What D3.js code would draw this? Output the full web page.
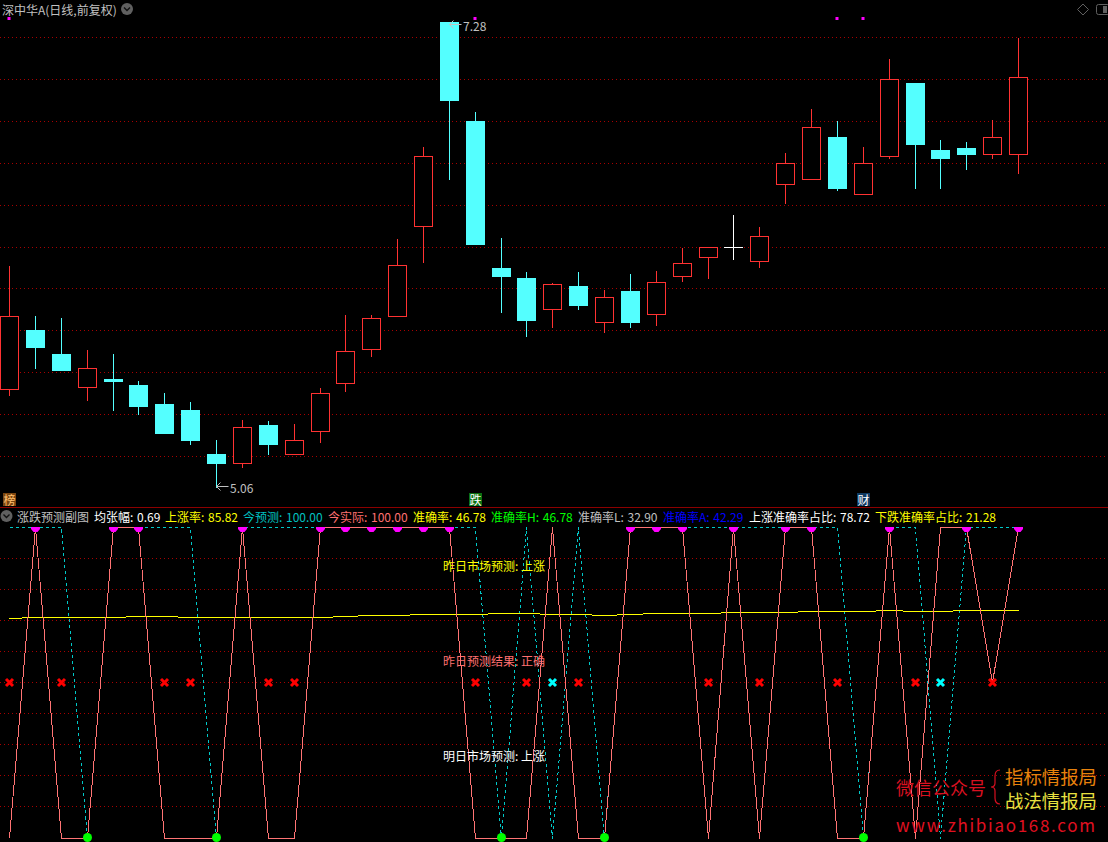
<!DOCTYPE html>
<html><head><meta charset="utf-8">
<script src="https://cdnjs.cloudflare.com/ajax/libs/d3/7.8.5/d3.min.js"></script>
<style>
html,body{margin:0;padding:0;background:#000;overflow:hidden}
svg{display:block;background:#000}
text{font-family:"Noto Sans CJK SC","Noto Sans",sans-serif;font-size:12px;dominant-baseline:central}
</style></head><body><svg id="c" width="1108" height="842"></svg>
<script>
const highs=[6.109,5.871,5.861,5.708,5.689,5.560,5.503,5.460,5.279,5.374,5.369,5.355,5.527,5.875,5.875,6.238,6.677,7.274,6.844,6.243,6.081,6.028,6.081,5.995,6.071,6.085,6.195,6.198,6.353,6.295,6.649,6.859,6.801,6.677,7.097,6.983,6.711,6.701,6.806,7.198];
const opens=[5.520,5.804,5.689,5.529,5.570,5.541,5.451,5.422,5.212,5.167,5.350,5.210,5.319,5.548,5.711,5.868,6.298,7.274,6.801,6.100,6.052,5.902,6.014,5.840,5.990,5.878,6.059,6.150,6.199,6.131,6.498,6.522,6.725,6.451,6.632,6.983,6.663,6.673,6.642,6.644];
const closes=[5.868,5.723,5.613,5.620,5.560,5.441,5.312,5.279,5.169,5.338,5.260,5.276,5.501,5.701,5.859,6.112,6.632,6.902,6.214,6.062,5.852,6.021,5.923,5.959,5.842,6.031,6.121,6.198,6.199,6.250,6.599,6.770,6.482,6.599,7.000,6.692,6.625,6.644,6.723,7.009];
const lows=[5.494,5.622,5.613,5.470,5.422,5.403,5.312,5.260,5.054,5.150,5.212,5.210,5.269,5.513,5.680,5.868,6.125,6.525,6.214,5.890,5.772,5.815,5.905,5.791,5.815,5.824,6.034,6.052,6.143,6.101,6.410,6.522,6.472,6.451,6.625,6.482,6.482,6.572,6.625,6.553];
const priceTicks=[7.2,7.0,6.8,6.6,6.4,6.2,6.0,5.8,5.6,5.4,5.2];
const pinkLine=[0,100,0,0,100,100,0,0,0,100,0,0,100,100,100,100,100,100,0,0,0,100,0,0,100,100,100,0,100,0,100,100,0,0,100,0,100,100,50,100];
const cyanLine=[100,100,100,0,100,100,100,100,0,100,100,100,100,100,100,100,100,100,100,0,100,0,100,0,100,100,100,100,100,100,100,100,100,0,100,100,0,100,100,100];
const yellowLine=[70.76,71.08,71.08,71.08,71.08,71.40,71.40,71.08,71.08,71.08,71.08,71.08,71.08,71.40,71.72,71.72,72.05,72.05,72.05,72.37,72.37,72.05,72.05,71.72,72.05,72.37,72.37,72.37,72.69,72.69,72.69,73.01,73.01,73.01,73.33,73.01,73.01,73.33,73.33,73.33];
const subTicks=[90,80,70,60,50,40,30,20,10];
const topSquares=[0,18,32,33];
const badges=[[0,"榜","#7a4510","#ffc070"],[18,"跌","#0a7010","#ffffff"],[33,"财","#0e3a62","#ffffff"]];
const statNames=["均张幅","上涨率","今预测","今实际","准确率","准确率H","准确率L","准确率A","上涨准确率占比","下跌准确率占比"];
const statValues=["0.69","85.82","100.00","100.00","46.78","46.78","32.90","42.29","78.72","21.28"];
const statColors=["#ffffff","#ffff00","#00c0c0","#ff7070","#ffff00","#00ff00","#c0c0c0","#0000ff","#ffffff","#ffff00"];
const statX=[94,165,243,328,413,491,578,663,749,875];
const notes=[["昨日市场预测: 上涨","#ffff00",565.5],["昨日预测结果: 正确","#ff7070",660.5],["明日市场预测: 上涨","#ffffff",755.5]];

const svg=d3.select("#c");
const x=d3.scaleLinear().domain([0,39]).range([9.6,1018.5]);
const cx=i=>Math.floor(x(i))+0.5;
const y=d3.scaleLinear().domain([7.2,5.2]).range([37.5,456.5]);
const py=v=>Math.floor(y(v)+0.2)+0.5;
const s=d3.scaleLinear().domain([100,0]).range([527.5,838]);
const sy=v=>Math.floor(s(v))+0.5;
const idx=d3.range(highs.length);
const GRID="#a80000",RED="#ff3232",CY="#54ffff";

// grids
const gridG=svg.append("g").attr("shape-rendering","crispEdges").attr("stroke",GRID).attr("stroke-dasharray","1,3");
gridG.selectAll(".p").data(priceTicks).join("line").attr("x1",0).attr("x2",1108).attr("y1",d=>Math.floor(y(d))+0.5).attr("y2",d=>Math.floor(y(d))+0.5);
gridG.selectAll(".s").data(subTicks).join("line").attr("x1",0).attr("x2",1108).attr("y1",d=>sy(d)).attr("y2",d=>sy(d));
svg.append("line").attr("x1",0).attr("x2",1108).attr("y1",507.5).attr("y2",507.5).attr("stroke","#8c0000").attr("shape-rendering","crispEdges");

// candles
const col=i=>closes[i]>opens[i]?RED:closes[i]<opens[i]?CY:"#ffffff";
const cg=svg.append("g").attr("shape-rendering","crispEdges");
cg.selectAll(".w").data(idx).join("line").attr("x1",cx).attr("x2",cx).attr("y1",i=>py(highs[i])-1).attr("y2",i=>py(lows[i])).attr("stroke",col);
cg.selectAll(".b").data(idx).join("rect").attr("x",i=>cx(i)-9).attr("width",18)
 .attr("y",i=>py(Math.max(opens[i],closes[i]))).attr("height",i=>Math.max(0.01,Math.abs(py(opens[i])-py(closes[i]))))
 .attr("stroke",col).attr("fill",i=>closes[i]>opens[i]?"#000":col(i));

// min/max labels
const iMax=d3.greatestIndex(highs),iMin=d3.leastIndex(lows);
const ext=[[iMax,"7.28",25],[iMin,"5.06",487]];
ext.forEach(([i,t,yy])=>{
  const g=svg.append("g").attr("stroke","#c0c0c0").attr("fill","none");
  const a=cx(i);
  g.append("path").attr("d",`M${a+12},${yy-.5}H${a}M${a+4},${yy-4.5}L${a},${yy-.5}L${a+4},${yy+3.5}`);
  svg.append("text").attr("x",a+13.5).attr("y",yy).attr("fill","#c0c0c0").text(t);
});

// top markers and badges
svg.selectAll(".sq").data(topSquares).join("rect").attr("x",i=>cx(i)-2).attr("y",17).attr("width",3).attr("height",3).attr("fill","#ff00ff");
badges.forEach(([i,t,bg,fg])=>{
  svg.append("rect").attr("x",cx(i)-6.5).attr("y",493).attr("width",13).attr("height",13).attr("fill",bg);
  svg.append("text").attr("x",cx(i)).attr("y",499.5).attr("text-anchor","middle").attr("fill",fg).text(t);
});

// title
svg.append("text").attr("x",2).attr("y",9).attr("fill","#c0c0c0").text("深中华A(日线,前复权)");
function chev(xc,yc){
  svg.append("circle").attr("cx",xc).attr("cy",yc).attr("r",6).attr("fill","#606060");
  svg.append("path").attr("d",`M${xc-3},${yc-1.5}L${xc},${yc+1.5}L${xc+3},${yc-1.5}`).attr("fill","none").attr("stroke","#111").attr("stroke-width",1.4);
}
chev(127,9);chev(6.5,516);
svg.append("path").attr("d","M1083,4L1088.5,9.5L1083,15L1077.5,9.5Z").attr("fill","none").attr("stroke","#606060");
svg.append("rect").attr("x",1096.5).attr("y",4.5).attr("width",13).attr("height",10).attr("rx",2).attr("fill","none").attr("stroke","#606060");
svg.append("rect").attr("x",1103).attr("y",6).attr("width",4).attr("height",7).attr("fill","#606060");

// sub panel header
svg.append("text").attr("x",17).attr("y",516).attr("fill","#c0c0c0").text("涨跌预测副图");
svg.selectAll(".st").data(idx.slice(0,statNames.length)).join("text").attr("x",i=>statX[i]).attr("y",516).attr("fill",i=>statColors[i]).style("word-spacing","1px").text(i=>statNames[i]+": "+statValues[i]);

// sub panel lines
const ln=a=>d3.line().x(i=>cx(i)).y(i=>sy(a[i]))(idx);
svg.append("path").attr("d",ln(cyanLine)).attr("fill","none").attr("stroke","#00c8c8").attr("stroke-dasharray","3,3").attr("shape-rendering","crispEdges");
svg.append("path").attr("d",ln(yellowLine)).attr("fill","none").attr("stroke","#ffff00").attr("shape-rendering","crispEdges");
svg.append("path").attr("d",ln(pinkLine)).attr("fill","none").attr("stroke","#ff7474").attr("shape-rendering","crispEdges");

// signals
const up=idx.filter(i=>pinkLine[i]===100&&cyanLine[i]===100);
svg.selectAll(".tri").data(up).join("path").attr("fill","#ff00ff").attr("d",i=>{const a=cx(i);return `M${a-4.5},${527}H${a+4.5}V${529}L${a+2},${532}H${a-2}L${a-4.5},${529}Z`;});
const dn=idx.filter(i=>pinkLine[i]===0&&cyanLine[i]===0);
svg.selectAll(".dot").data(dn).join("circle").attr("cx",cx).attr("cy",837.5).attr("r",4.5).attr("fill","#00ff00");
const xs=idx.filter(i=>pinkLine[i]!==cyanLine[i]);
svg.selectAll(".x").data(xs).join("path").attr("fill","none").attr("stroke-width",3)
 .attr("stroke",i=>pinkLine[i]<cyanLine[i]?"#ff0000":"#00ffff")
 .attr("d",i=>{const a=cx(i),b=sy(50);return `M${a-3.5},${b-3.5}L${a+3.5},${b+3.5}M${a+3.5},${b-3.5}L${a-3.5},${b+3.5}`;});

// notes
svg.selectAll(".n").data(notes).join("text").attr("x",443).attr("y",d=>d[2]).attr("fill",d=>d[1]).text(d=>d[0]);

// watermark
const wm=svg.append("g");
wm.append("text").attr("x",896).attr("y",787).attr("fill","#d81020").style("font-size","18px").text("微信公众号");
wm.append("text").attr("x",1005).attr("y",776).attr("fill","#e8820c").style("font-size","18.4px").text("指标情报局");
wm.append("text").attr("x",1005).attr("y",800).attr("fill","#e8e040").style("font-size","18.4px").text("战法情报局");
wm.append("text").attr("x",896).attr("y",824.5).attr("fill","#e01020").style("font-size","17px").attr("textLength",199).text("www.zhibiao168.com");
wm.append("path").attr("d","M1000,770Q995,770 995,776V783Q995,787 991,787Q995,787 995,791V798Q995,804 1000,804").attr("fill","none").attr("stroke","#d81020").attr("stroke-width",1.2);
</script></body></html>
